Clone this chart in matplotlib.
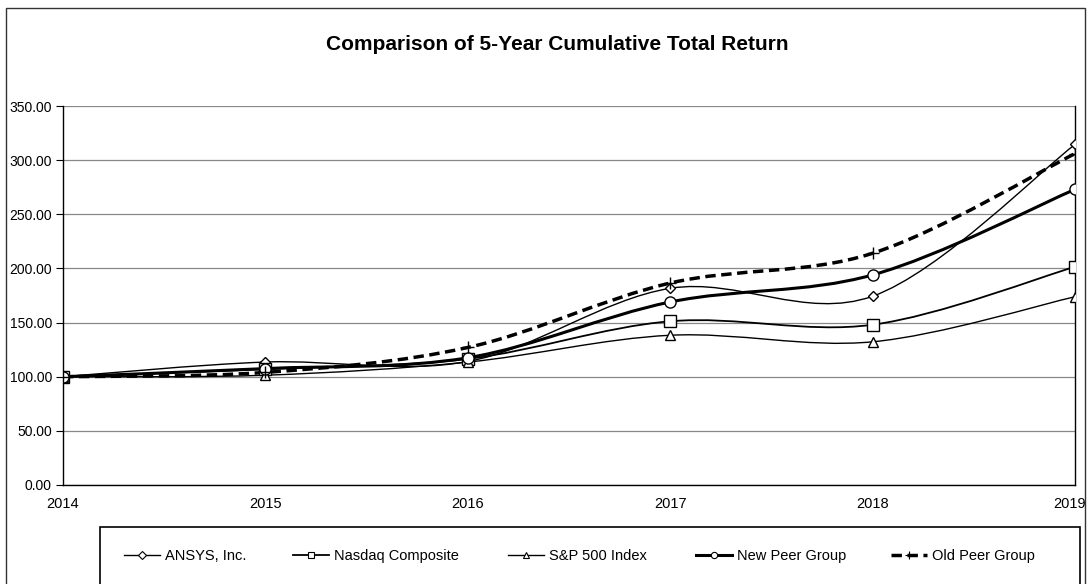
import numpy as np
import matplotlib
matplotlib.use('Agg')
import matplotlib.pyplot as plt
from matplotlib.path import Path
from matplotlib.patches import PathPatch, Rectangle
from matplotlib.lines import Line2D
from matplotlib.transforms import ScaledTranslation

plt.rcParams['font.family'] = ['Liberation Sans', 'DejaVu Sans']

years = [2014, 2015, 2016, 2017, 2018, 2019]
ansys = [100.00, 113.56, 114.06, 181.63, 174.32, 314.45]
nasdaq = [100.00, 106.96, 116.45, 151.20, 148.00, 201.50]
sp500 = [100.00, 101.38, 113.51, 138.29, 132.23, 173.86]
new_peer = [100.00, 107.50, 117.50, 169.00, 194.00, 273.00]
old_peer = [100.00, 104.00, 127.00, 186.50, 214.00, 306.00]

series = [
    ('ANSYS, Inc.', ansys, 'D', 1.0, '-', 5.5),
    ('Nasdaq Composite', nasdaq, 's', 1.3, '-', 8),
    ('S&P 500 Index', sp500, '^', 1.0, '-', 7.5),
    ('New Peer Group', new_peer, 'o', 2.2, '-', 8),
    ('Old Peer Group', old_peer, '+', 2.5, (0, (3, 1.6)), 9),
]
# legend entry start positions (pixels)
legend_x = [124, 293, 508, 696, 891]


def smooth_path(x, y):
    # catmull-rom -> bezier, like Excel smoothed lines
    x = np.asarray(x, float)
    y = np.asarray(y, float)
    verts = [(x[0], y[0])]
    codes = [Path.MOVETO]
    n = len(x)
    for i in range(n - 1):
        p0 = (x[max(i - 1, 0)], y[max(i - 1, 0)])
        p1 = (x[i], y[i])
        p2 = (x[i + 1], y[i + 1])
        p3 = (x[min(i + 2, n - 1)], y[min(i + 2, n - 1)])
        c1 = (p1[0] + (p2[0] - p0[0]) / 6, p1[1] + (p2[1] - p0[1]) / 6)
        c2 = (p2[0] - (p3[0] - p1[0]) / 6, p2[1] - (p3[1] - p1[1]) / 6)
        verts += [c1, c2, p2]
        codes += [Path.CURVE4] * 3
    return Path(verts, codes)


fig = plt.figure(figsize=(10.89, 5.84), dpi=100)
ax = fig.add_axes([63 / 1089, 1 - 485 / 584, (1075 - 63) / 1089, (485 - 106) / 584])

for label, vals, mk, lw, ls, ms in series:
    patch = PathPatch(smooth_path(years, vals), facecolor='none', edgecolor='black',
                      lw=lw, linestyle=ls, zorder=3)
    ax.add_patch(patch)
    if mk == '+':
        ax.plot(years, vals, linestyle='none', marker=mk, color='black', ms=ms, mew=1.0, zorder=4)
    else:
        ax.plot(years, vals, linestyle='none', marker=mk, mfc='white', mec='black',
                ms=ms, mew=1.0, zorder=4)

ax.set_xlim(2014, 2019)
ax.set_ylim(0, 350)
ax.set_yticks(np.arange(0, 351, 50))
ax.set_yticklabels(['%.2f' % v for v in np.arange(0, 351, 50)], fontsize=10)
ax.set_xticks(years)
ax.set_xticklabels([str(y) for y in years], fontsize=10.5)
ax.yaxis.grid(True, color='#888888', lw=0.9)
ax.set_axisbelow(True)
ax.spines['top'].set_visible(False)
for s in ['left', 'bottom', 'right']:
    ax.spines[s].set_linewidth(1.0)
ax.tick_params(axis='y', length=5, width=0.8, pad=3)
ax.tick_params(axis='x', length=0, pad=9)
# keep last year label inside the figure
last = ax.get_xticklabels()[-1]
last.set_transform(last.get_transform() + ScaledTranslation(-5 / 100, 0, fig.dpi_scale_trans))

fig.text(557 / 1089, 1 - 45 / 584, 'Comparison of 5-Year Cumulative Total Return',
         ha='center', va='center', fontsize=15, fontweight='bold')

# outer border and legend box
fig.patches.append(Rectangle((6 / 1089, -0.01), 1 - 10 / 1089, 1 - 8 / 584 + 0.01,
                             transform=fig.transFigure, fill=False, ec='#333333', lw=1.0))
fig.patches.append(Rectangle((100 / 1089, -0.05), (1080 - 100) / 1089, 0.05 + 1 - 527 / 584,
                             transform=fig.transFigure, fill=False, ec='black', lw=1.2))

for (label, vals, mk, lw, ls, ms), lx in zip(series, legend_x):
    if mk == '+':
        h = Line2D([], [], color='black', lw=lw, linestyle=ls, marker=mk, ms=6, mew=0.8)
    else:
        h = Line2D([], [], color='black', lw=lw, linestyle=ls, marker=mk, ms=4.5,
                   mfc='white', mec='black', mew=0.8)
    fig.legend([h], [label], loc='center left', bbox_to_anchor=(lx / 1089, 1 - 556 / 584),
               frameon=False, fontsize=10.5, handlelength=2.5, handletextpad=0.3,
               borderpad=0, borderaxespad=0)

fig.savefig('out.png', dpi=100)
